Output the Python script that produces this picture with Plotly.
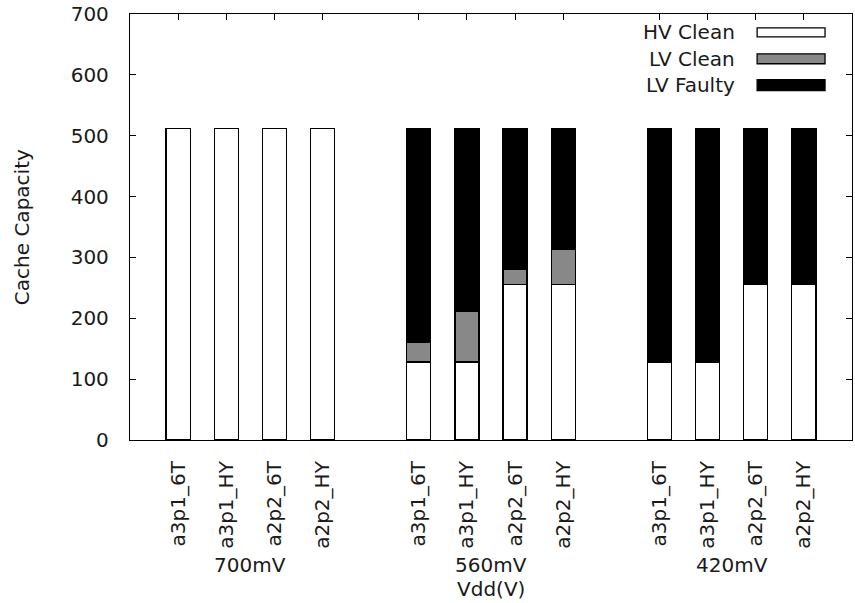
import plotly.graph_objects as go

# Cache configurations per supply voltage
config_labels = ["a3p1_6T", "a3p1_HY", "a2p2_6T", "a2p2_HY"] * 3
voltage_groups = ["700mV", "560mV", "420mV"]
bar_positions = [0, 1, 2, 3, 5, 6, 7, 8, 10, 11, 12, 13]

# Capacity split (stacked bottom to top)
hv_clean = [512, 512, 512, 512, 128, 128, 256, 256, 128, 128, 256, 256]
lv_clean = [0, 0, 0, 0, 32, 84, 24, 58, 0, 0, 0, 0]
lv_faulty = [0, 0, 0, 0, 352, 300, 232, 198, 384, 384, 256, 256]

series = [
    ("HV Clean", hv_clean, "#ffffff"),
    ("LV Clean", lv_clean, "#888888"),
    ("LV Faulty", lv_faulty, "#000000"),
]

FONT = "DejaVu Sans"
FS = 20
TXT = "#1a1a1a"

fig = go.Figure()
for name, vals, color in series:
    fig.add_trace(go.Bar(
        x=bar_positions, y=vals, name=name, width=0.5,
        marker=dict(color=color, line=dict(color="#000000", width=1.3)),
        showlegend=False,
    ))

W, H = 855, 603
ml, mr, mt, mb = 130, 2, 12, 163
pw, ph = W - ml - mr, H - mt - mb


def px_x(px):
    return (px - ml) / pw


def px_y(py):
    return (mt + ph - py) / ph


annotations = []
shapes = []

# Voltage group labels under each cluster
for i, g in enumerate(voltage_groups):
    center = (bar_positions[4 * i + 1] + bar_positions[4 * i + 2]) / 2
    annotations.append(dict(x=center, xref="x", y=px_y(566), yref="paper",
                            text=g, showarrow=False, yanchor="middle",
                            font=dict(family=FONT, size=FS, color=TXT)))

# Axis titles
annotations.append(dict(x=px_x(491), xref="paper", y=px_y(590), yref="paper",
                        text="Vdd(V)", showarrow=False, yanchor="middle",
                        font=dict(family=FONT, size=FS, color=TXT)))
annotations.append(dict(x=px_x(22), xref="paper", y=0.5, yref="paper",
                        text="Cache Capacity", showarrow=False, textangle=-90,
                        xanchor="center", yanchor="middle",
                        font=dict(family=FONT, size=FS, color=TXT)))

# Key with labels on the left and swatches on the right
key_rows = [(30, 26, 35), (57, 52, 62), (83, 78, 89)]
for (name, _, color), (ty, y0, y1) in zip(series, key_rows):
    annotations.append(dict(x=px_x(738), xref="paper", y=px_y(ty), yref="paper",
                            text=name, showarrow=False, xanchor="right",
                            yanchor="middle",
                            font=dict(family=FONT, size=FS, color=TXT)))
    shapes.append(dict(type="rect", xref="paper", yref="paper",
                       x0=px_x(758), x1=px_x(826), y0=px_y(y1), y1=px_y(y0),
                       fillcolor=color, line=dict(color="#000", width=1.3)))

fig.update_layout(
    width=W, height=H,
    margin=dict(l=ml, r=mr, t=mt, b=mb, pad=0),
    paper_bgcolor="white", plot_bgcolor="white",
    barmode="stack",
    font=dict(family=FONT, size=FS, color=TXT),
    annotations=annotations, shapes=shapes,
    xaxis=dict(
        range=[-1, 14], tickvals=bar_positions, ticktext=config_labels,
        tickangle=-90, ticks="inside", ticklen=6, tickcolor="#000",
        showline=True, linecolor="#000", linewidth=1.3, mirror="allticks",
        showgrid=False, zeroline=False, layer="below traces",
        ticklabelstandoff=12,
        tickfont=dict(family=FONT, size=FS, color=TXT),
    ),
    yaxis=dict(
        range=[0, 700], dtick=100, ticks="inside", ticklen=6, tickcolor="#000",
        showline=True, linecolor="#000", linewidth=1.3, mirror="allticks",
        showgrid=False, zeroline=False, ticklabelstandoff=16,
        tickfont=dict(family=FONT, size=FS, color=TXT),
    ),
)

fig.write_html("out.html")
